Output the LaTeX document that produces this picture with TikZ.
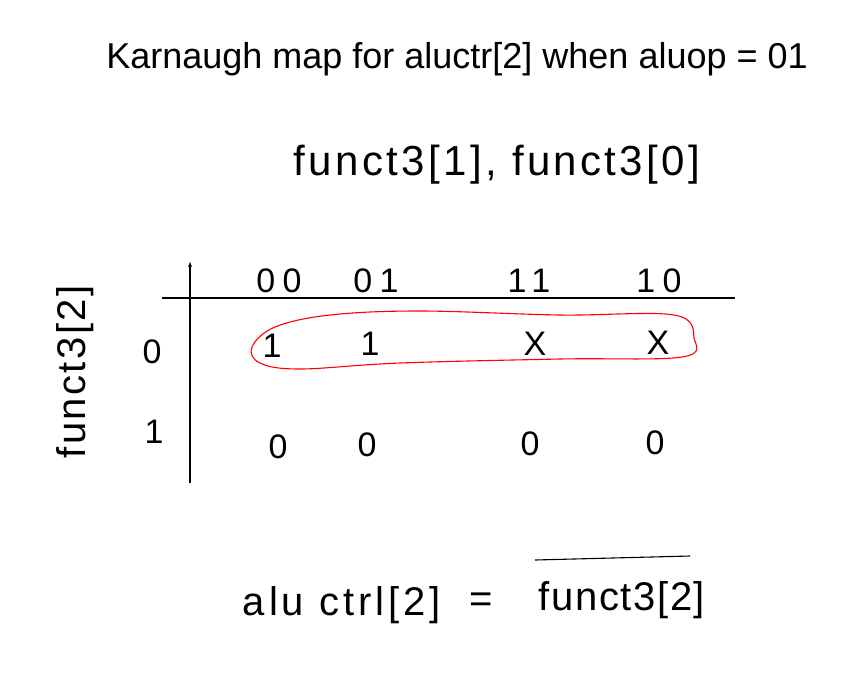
\documentclass[tikz,border=0pt]{standalone}
\usepackage{fontspec}
\setmainfont{Liberation Sans}
\usetikzlibrary{arrows.meta}
\begin{document}
\begin{tikzpicture}[x=1pt,y=-1pt,
  big/.style={font=\fontsize{36}{40}\selectfont, inner sep=0pt},
  sub/.style={font=\fontsize{42}{46}\selectfont\addfontfeature{LetterSpace=8}, inner sep=0pt},
  hdr/.style={font=\fontsize{34}{38}\selectfont\addfontfeature{LetterSpace=22}, inner sep=0pt},
  cell/.style={font=\fontsize{34}{38}\selectfont, inner sep=0pt},
  rowv/.style={font=\fontsize{40}{44}\selectfont\addfontfeature{LetterSpace=6}, inner sep=0pt},
  res/.style={font=\fontsize{40}{44}\selectfont, inner sep=0pt},
  axis/.style={line width=1.2pt, black},
  loop/.style={draw=red, line width=1.1pt}]
\useasboundingbox[fill=white] (0,0) rectangle (853,678);
% titles
\node[big] (title) at (457,59) {Karnaugh map for aluctr[2] when aluop = 01};
\node[sub] (sub) at (497,165) {funct3[1], funct3[0]};
% axes
\coordinate (vtop) at (190,262);
\coordinate (vbot) at (190,483);
\coordinate (hl) at (162,298);
\coordinate (hr) at (735,298);
\draw[axis, -{Stealth[length=5pt,width=4pt]}] (vbot) -- (vtop);
\draw[axis] (hl) -- (hr);
% column headers
\node[hdr] (c00) at (279,281) {00};
\node[hdr] (c01) at (376,281) {01};
\node[hdr] (c11) at (529,281) {11};
\node[hdr] (c10) at (659,281) {10};
% row labels
\node[cell] (r0) at (152,352) {0};
\node[cell] (r1) at (154,432) {1};
\node[rowv, rotate=90] (rowvar) at (75,372) {funct3[2]};
% cells
\node[cell] (a00) at (272,346) {1};
\node[cell] (a01) at (370,344) {1};
\node[cell] (a11) at (535,344) {X};
\node[cell] (a10) at (658,343) {X};
\node[cell] (b00) at (278,447) {0};
\node[cell] (b01) at (367,445) {0};
\node[cell] (b11) at (530,444) {0};
\node[cell] (b10) at (655,443) {0};
% red loop
\draw[loop] plot[smooth cycle, tension=0.6] coordinates {(252,347) (275,327) (330,315) (420,311) (560,315) (674,315) (694,338) (682,357) (560,359) (400,363) (300,369) (260,363)};
% result
\node[res, font=\fontsize{40}{44}\selectfont\addfontfeature{LetterSpace=10}] (lhs) at (342,605) {alu ctrl[2]};
\node[res] (eq) at (481,603) {=};
\node[res, font=\fontsize{40}{44}\selectfont\addfontfeature{LetterSpace=4}] (rhs) at (622,600) {funct3[2]};
\coordinate (ol) at (535,560);
\coordinate (or) at (690,556);
\draw[line width=1.1pt] (ol) -- (or);
\end{tikzpicture}
\end{document}
